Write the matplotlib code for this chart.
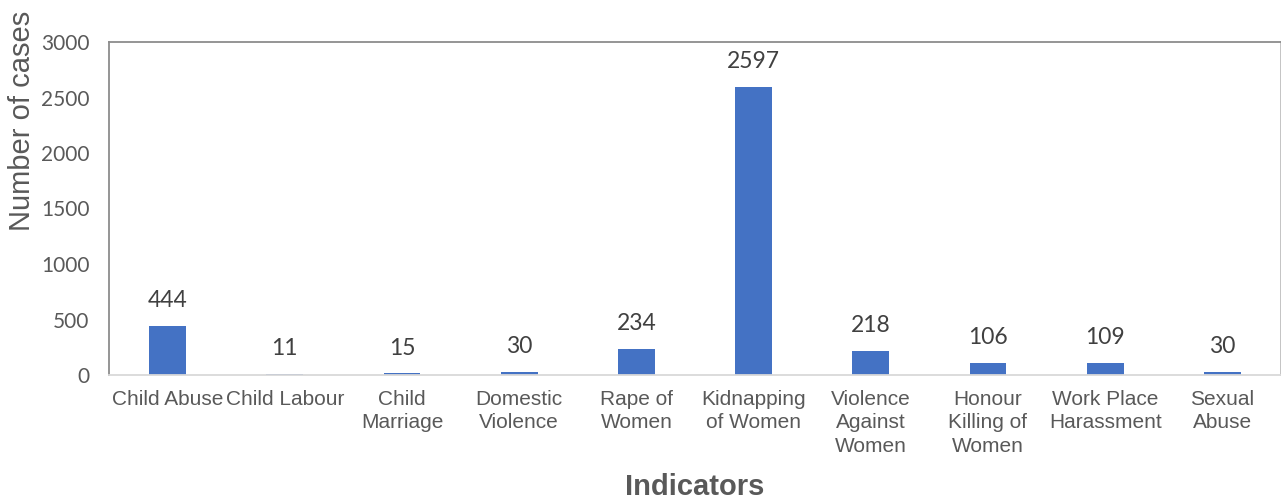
import numpy as np
from matplotlib import pyplot as plt

# categories and reported case counts
indicators = ["Child Abuse", "Child Labour", "Child\nMarriage", "Domestic\nViolence",
              "Rape of\nWomen", "Kidnapping\nof Women", "Violence\nAgainst\nWomen",
              "Honour\nKilling of\nWomen", "Work Place\nHarassment", "Sexual\nAbuse"]
cases = [444, 11, 15, 30, 234, 2597, 218, 106, 109, 30]
yticks = [0, 500, 1000, 1500, 2000, 2500, 3000]

barColor = "#4472C4"
labelGray = "#595959"

fig = plt.figure(figsize=(12.81, 5.01), dpi=100)
ax = fig.add_axes([109 / 1281, 126 / 501, 1172 / 1281, 333 / 501])

x = np.arange(len(indicators))
bars = ax.bar(x, cases, width=0.315, color=barColor, zorder=2)

# value labels above each bar
for xi, val in zip(x, cases):
    ax.annotate(str(val), (xi, val), xytext=(0, 13.5), textcoords="offset points",
                ha="center", va="baseline", fontsize=16.5, family="Lato", color="#404040")

ax.set_xlim(-0.5, len(indicators) - 0.5)
ax.set_ylim(0, 3000)
ax.set_yticks(yticks)
ax.set_yticklabels([str(t) for t in yticks], family="Lato", fontsize=15, color=labelGray)
ax.set_xticks(x)
ax.set_xticklabels(indicators, family="Liberation Sans", fontsize=15, color=labelGray,
                   linespacing=1.28)
ax.tick_params(axis="both", length=0)
ax.tick_params(axis="x", pad=11)
ax.tick_params(axis="y", pad=14)

# plot area border
ax.spines["left"].set_color("#8c8c8c")
ax.spines["top"].set_color("#8c8c8c")
ax.spines["right"].set_color("#bfbfbf")
ax.spines["bottom"].set_color("#d9d9d9")
for s in ax.spines.values():
    s.set_linewidth(1.3)

fig.text(22 / 1281, 1 - 121 / 501, "Number of cases", rotation=90, ha="center", va="center",
         family="Liberation Sans", fontsize=21, color=labelGray)
fig.text(695 / 1281, 1 - 487 / 501, "Indicators", ha="center", va="center",
         family="Liberation Sans", fontsize=21, fontweight="bold", color=labelGray)

fig.savefig("out.png", dpi=100)
